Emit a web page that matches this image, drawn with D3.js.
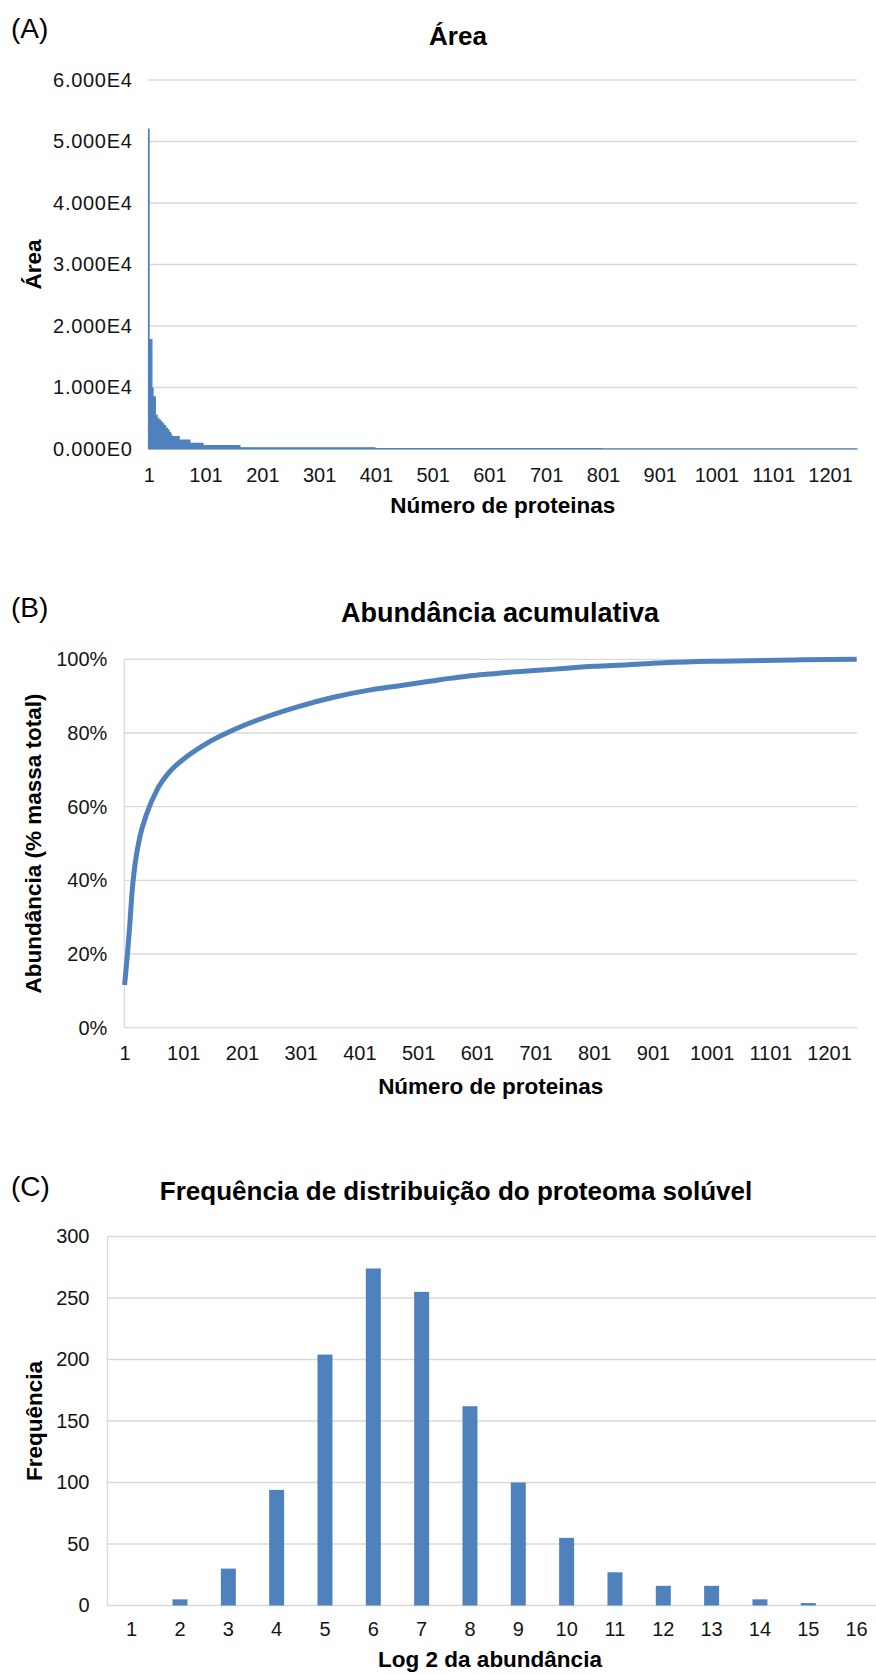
<!DOCTYPE html>
<html>
<head>
<meta charset="utf-8">
<script src="https://cdn.jsdelivr.net/npm/d3@7"></script>
<style>
  html, body { margin: 0; padding: 0; background: #ffffff; }
  svg { display: block; }
</style>
</head>
<body>
<svg id="fig" width="876" height="1674"></svg>
<script>
// ---------------- data ----------------
// (A) area of each protein, ranked; each step starts at the given rank
const proteinCount = 1248;
const areaRankStart = [1, 2, 7, 9, 13, 16, 19, 22, 25, 28, 31, 34, 37, 40, 42, 55, 74, 97, 162, 400, 800];
const areaValue     = [52000, 17800, 9900, 8500, 5500, 5000, 4700, 4400, 4100, 3800, 3400, 3100, 2700, 2300, 2000, 1450, 920, 540, 200, 60, 20];
const areaTicks = [0, 10000, 20000, 30000, 40000, 50000, 60000];
const rankTicks = [1, 101, 201, 301, 401, 501, 601, 701, 801, 901, 1001, 1101, 1201];

// (B) cumulative abundance (% of total mass) by protein rank
const cumRank    = [1, 6, 10, 14, 19, 27, 39, 56, 78, 107, 141, 186, 243, 300, 357, 413, 450, 478, 507, 535, 564, 595, 629, 666, 706, 748, 800, 859, 927, 1015, 1157, 1248];
const cumPercent = [11.6, 20.2, 28.3, 37.4, 44.6, 51.8, 58.2, 64.5, 69.5, 73.6, 77.2, 80.8, 84.4, 87.3, 89.7, 91.5, 92.4, 93.0, 93.7, 94.4, 95.0, 95.6, 96.1, 96.6, 97.0, 97.5, 98.1, 98.5, 99.1, 99.5, 99.85, 100];
const percentTicks = [0, 20, 40, 60, 80, 100];

// (C) frequency distribution of log2 abundance
const log2Bins = [1, 2, 3, 4, 5, 6, 7, 8, 9, 10, 11, 12, 13, 14, 15, 16];
const binFrequency = [0, 5, 30, 94, 204, 274, 255, 162, 100, 55, 27, 16, 16, 5, 2, 0];
const freqTicks = [0, 50, 100, 150, 200, 250, 300];

// ---------------- style ----------------
const BLUE = "#4F81BD";
const GRID = "#D9D9D9";
const INK = "#141414";
const FONT = '"Liberation Sans", Arial, Helvetica, sans-serif';
const TICK_SIZE = 20;
const AXIS_TITLE_SIZE = 22.5;
const TITLE_SIZE = 26;
const PANEL_SIZE = 28;

const svg = d3.select("#fig").attr("font-family", FONT);

function styleAxis(g) {
  g.select(".domain").remove();
  g.selectAll("text")
    .attr("font-size", TICK_SIZE)
    .attr("font-family", FONT)
    .attr("fill", INK);
}

function text(g, str, x, y, opt = {}) {
  return g.append("text")
    .attr("x", x).attr("y", y)
    .attr("text-anchor", opt.anchor || "middle")
    .attr("font-size", opt.size || TICK_SIZE)
    .attr("font-weight", opt.bold ? "bold" : "normal")
    .attr("fill", opt.fill || "#000")
    .text(str);
}

function vTitle(g, str, x, cy) {
  g.append("text")
    .attr("transform", `translate(${x},${cy}) rotate(-90)`)
    .attr("text-anchor", "middle")
    .attr("font-size", AXIS_TITLE_SIZE)
    .attr("font-weight", "bold")
    .attr("fill", "#000")
    .text(str);
}

function hGrid(g, ticks, y, x1, x2) {
  g.append("g").selectAll("line").data(ticks).join("line")
    .attr("x1", x1).attr("x2", x2)
    .attr("y1", d => y(d)).attr("y2", d => y(d))
    .attr("stroke", GRID).attr("stroke-width", 1.3);
}

// ---------------- (A) Área ----------------
{
  const P = { left: 148.5, right: 857, top: 80, bottom: 449 };
  const g = svg.append("g");
  const x = d3.scaleLinear().domain([0.5, proteinCount + 0.5]).range([P.left, P.right]);
  const y = d3.scaleLinear().domain([0, 60000]).range([P.bottom, P.top]);

  hGrid(g, areaTicks, y, P.left, P.right);

  const steps = areaRankStart.map((r, i) => ({ r: r - 0.5, v: areaValue[i] }));
  steps.push({ r: proteinCount + 0.5, v: areaValue[areaValue.length - 1] });
  const area = d3.area()
    .x(d => x(d.r))
    .y0(y(0))
    .y1(d => y(d.v))
    .curve(d3.curveStepAfter);
  g.append("path").datum(steps)
    .attr("d", area)
    .attr("fill", BLUE)
    .attr("stroke", BLUE)
    .attr("stroke-width", 1.2)
    .attr("stroke-linejoin", "miter");

  const fmtE = d => (d / 1e4).toFixed(3) + "E" + (d === 0 ? "0" : "4");
  g.append("g").attr("transform", `translate(${P.left},0)`)
    .call(d3.axisLeft(y).tickValues(areaTicks).tickSize(0).tickPadding(16).tickFormat(fmtE))
    .call(styleAxis)
    .call(ax => ax.selectAll("text").attr("letter-spacing", 0.7));
  g.append("g").attr("transform", `translate(0,${P.bottom})`)
    .call(d3.axisBottom(x).tickValues(rankTicks).tickSize(0).tickPadding(19).tickFormat(d3.format("d")))
    .call(styleAxis);

  text(g, "(A)", 11, 38, { anchor: "start", size: PANEL_SIZE });
  text(g, "Área", 458, 45, { size: TITLE_SIZE, bold: true });
  text(g, "Número de proteinas", (P.left + P.right) / 2, 513, { size: AXIS_TITLE_SIZE, bold: true });
  vTitle(g, "Área", 41, (P.top + P.bottom) / 2);
}

// ---------------- (B) Abundância acumulativa ----------------
{
  const P = { left: 124.3, right: 857, top: 659.3, bottom: 1027.7 };
  const g = svg.append("g");
  const x = d3.scaleLinear().domain([0.5, proteinCount + 0.5]).range([P.left, P.right]);
  const y = d3.scaleLinear().domain([0, 100]).range([P.bottom, P.top]);

  hGrid(g, percentTicks, y, P.left, P.right);
  g.append("line")
    .attr("x1", P.left).attr("x2", P.left).attr("y1", P.top).attr("y2", P.bottom)
    .attr("stroke", GRID).attr("stroke-width", 1.3);

  const pts = cumRank.map((r, i) => [r, cumPercent[i]]);
  const line = d3.line()
    .x(d => x(d[0]))
    .y(d => y(d[1]))
    .curve(d3.curveMonotoneX);
  g.append("path").datum(pts)
    .attr("d", line)
    .attr("fill", "none")
    .attr("stroke", BLUE)
    .attr("stroke-width", 5)
    .attr("stroke-linejoin", "round");

  g.append("g").attr("transform", `translate(${P.left},0)`)
    .call(d3.axisLeft(y).tickValues(percentTicks).tickSize(0).tickPadding(17).tickFormat(d => d + "%"))
    .call(styleAxis);
  g.append("g").attr("transform", `translate(0,${P.bottom})`)
    .call(d3.axisBottom(x).tickValues(rankTicks).tickSize(0).tickPadding(18).tickFormat(d3.format("d")))
    .call(styleAxis);

  text(g, "(B)", 11, 617, { anchor: "start", size: PANEL_SIZE });
  text(g, "Abundância acumulativa", 500, 622, { size: 27, bold: true });
  text(g, "Número de proteinas", (P.left + P.right) / 2, 1094, { size: AXIS_TITLE_SIZE, bold: true });
  vTitle(g, "Abundância (% massa total)", 41, (P.top + P.bottom) / 2);
}

// ---------------- (C) Frequência de distribuição ----------------
{
  const P = { left: 107.5, top: 1236.5, bottom: 1605.5, step: 48.33 };
  P.right = P.left + P.step * log2Bins.length;
  const g = svg.append("g");
  const x = d3.scaleBand().domain(log2Bins).range([P.left, P.right])
    .paddingInner(0.69).paddingOuter(0.345);
  const y = d3.scaleLinear().domain([0, 300]).range([P.bottom, P.top]);

  hGrid(g, freqTicks, y, P.left, P.right);
  g.append("line")
    .attr("x1", P.left).attr("x2", P.left).attr("y1", P.top).attr("y2", P.bottom)
    .attr("stroke", GRID).attr("stroke-width", 1.3);

  g.append("g").selectAll("rect").data(log2Bins).join("rect")
    .attr("x", d => x(d))
    .attr("width", x.bandwidth())
    .attr("y", (d, i) => y(binFrequency[i]))
    .attr("height", (d, i) => y(0) - y(binFrequency[i]))
    .attr("fill", BLUE);

  g.append("g").attr("transform", `translate(${P.left},0)`)
    .call(d3.axisLeft(y).tickValues(freqTicks).tickSize(0).tickPadding(18))
    .call(styleAxis);
  g.append("g").attr("transform", `translate(0,${P.bottom})`)
    .call(d3.axisBottom(x).tickSize(0).tickPadding(16))
    .call(styleAxis);

  text(g, "(C)", 11, 1196, { anchor: "start", size: PANEL_SIZE });
  text(g, "Frequência de distribuição do proteoma solúvel", 456, 1200, { size: TITLE_SIZE, bold: true });
  text(g, "Log 2 da abundância", 490, 1667, { size: AXIS_TITLE_SIZE, bold: true });
  vTitle(g, "Frequência", 42, (P.top + P.bottom) / 2);
}
</script>
</body>
</html>
